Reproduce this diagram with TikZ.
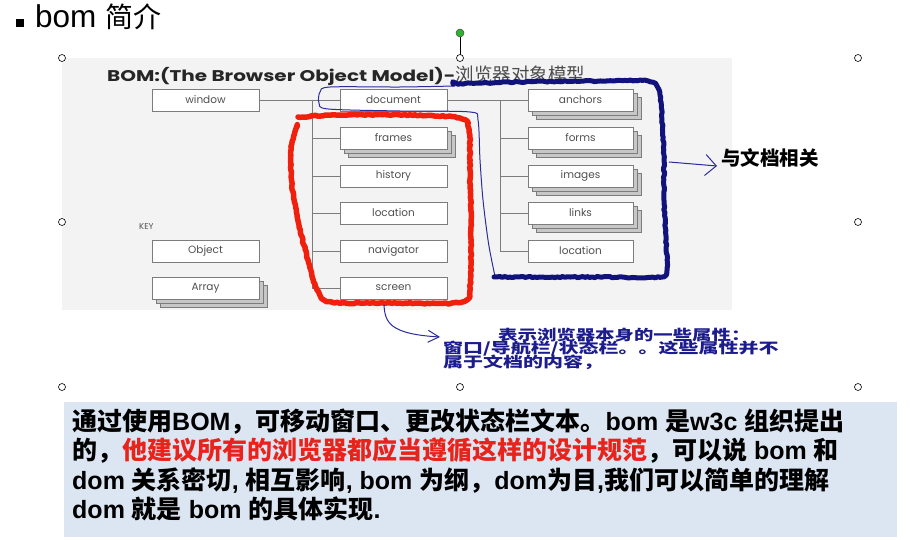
\documentclass[tikz,border=0pt]{standalone}
\usepackage{fontspec}
\usepackage{graphicx}
\setmainfont{Liberation Sans}
\newfontfamily\cjk{Noto Sans CJK SC}
\newfontfamily\pop{Poppins}
\usetikzlibrary{arrows.meta,decorations.pathmorphing,shadows}
\definecolor{boxline}{HTML}{7C7C7C}
\definecolor{labelgray}{HTML}{505050}
\definecolor{diagbg}{HTML}{F3F3F3}
\definecolor{notebg}{HTML}{DCE6F2}
\definecolor{penred}{HTML}{F0200C}
\definecolor{pennavy}{HTML}{12127C}
\definecolor{penthin}{HTML}{2C2C9C}
\definecolor{annot}{HTML}{1C1C8E}
\definecolor{zred}{HTML}{E8231C}
\definecolor{handlegreen}{HTML}{2DB32D}
\begin{document}
\begin{tikzpicture}[x=1pt,y=-1pt,
  obj/.style={draw=boxline, fill=white, line width=0.9pt, minimum width=107pt, minimum height=22pt, inner sep=0pt, font=\pop\fontsize{10.5}{11}\selectfont, text=labelgray},
  arr/.style={obj, double copy shadow={shadow xshift=4pt, shadow yshift=-4pt, fill=black!22, draw=boxline, line width=0.9pt}},
  conn/.style={draw=boxline, line width=0.8pt},
  handle/.style={circle, draw=black, fill=white, line width=0.6pt, minimum size=7pt, inner sep=0pt},
  redpen/.style={draw=penred, line width=5.5pt, line cap=round, line join=round, decorate, decoration={random steps, segment length=2.5pt, amplitude=0.6pt}},
  navypen/.style={draw=pennavy, line width=5pt, line cap=round, line join=round, decorate, decoration={random steps, segment length=2.5pt, amplitude=0.6pt}},
  thinpen/.style={draw=penthin, line width=1pt, line cap=round, line join=round},
  annottext/.style={inner sep=0pt, text=annot, font=\cjk\bfseries\fontsize{20}{20}\selectfont},
  note/.style={inner sep=0pt, anchor=base west, font=\bfseries\fontsize{25}{25}\selectfont}
]
\useasboundingbox (0,0) rectangle (910,540);
\fill[white] (0,0) rectangle (910,540);

% slide title
\fill[black] (16,19) rectangle (24,27);
\node[inner sep=0pt, anchor=base west] (slidetitle) at (35,28)
  {\fontsize{31.5}{31}\selectfont bom\hspace{9pt}{\cjk\fontsize{28}{28}\selectfont 简介}};

% picture background
\fill[diagbg] (62,58) rectangle (732,310);

% diagram title
\node[inner sep=0pt, anchor=base west, text=black!85] (dtitle) at (107,82)
  {\scalebox{1.29}[1]{\pop\bfseries\fontsize{15.5}{16}\selectfont BOM:(The Browser Object Model)-}};
\node[inner sep=0pt, anchor=base west, text=black!70, font=\cjk\fontsize{18.5}{19}\selectfont] (dtitlezh) at (dtitle.base east) {浏览器对象模型};

% boxes
\node[obj] (window) at (205.5,100) {window};
\node[obj] (document) at (393.5,100) {document};
\node[arr] (frames) at (393.5,138) {frames};
\node[obj] (history) at (393.5,176) {history};
\node[obj] (location) at (393.5,213) {location};
\node[obj] (navigator) at (393.5,251) {navigator};
\node[obj] (screen) at (393.5,288) {screen};
\node[arr, minimum width=105pt] (anchors) at (580.5,100) {anchors};
\node[arr, minimum width=105pt] (forms) at (580.5,138) {forms};
\node[arr, minimum width=105pt] (images) at (580.5,176) {images};
\node[arr, minimum width=105pt] (links) at (580.5,213) {links};
\node[obj, minimum width=105pt] (location2) at (580.5,251) {location};
\node[inner sep=0pt, anchor=west, text=labelgray, font=\pop\fontsize{8.5}{8}\selectfont] (key) at (139,227) {KEY};
\node[obj] (object) at (205.5,251) {Object};
\node[arr] (array) at (205.5,288) {Array};

% connectors
\coordinate (lt) at (312,0);
\coordinate (rt) at (500,0);
\draw[conn] (window.east) -- (document.west);
\draw[conn] (lt |- document.west) -- (lt |- screen.west);
\foreach \b in {frames,history,location,navigator,screen}
  \draw[conn] (lt |- \b.west) -- (\b.west);
\draw[conn] (document.east) -- (anchors.west);
\draw[conn] (rt |- anchors.west) -- (rt |- location2.west);
\foreach \b in {forms,images,links,location2}
  \draw[conn] (rt |- \b.west) -- (\b.west);

% hand-drawn marks
\draw[thinpen] plot[smooth, tension=0.5] coordinates {(455,86) (400,87) (330,87) (320,92) (319,103) (328,109) (400,111) (470,112) (478,120) (480,160) (483,200) (488,240) (492,262) (495,276)};
\draw[redpen] plot[smooth, tension=0.55] coordinates {(297,127) (291,150) (292,185) (299,225) (308,260) (317,290) (332,302) (400,303) (462,302) (470,285) (471,230) (470,170) (469,132) (460,118) (400,115) (340,115) (298,117)};
\draw[navypen] plot[smooth, tension=0.5] coordinates {(453,84) (520,82) (600,81) (648,81) (659,90) (662,120) (664,160) (664,200) (666,240) (667,268) (660,277) (600,277) (540,277) (494,277)};

% annotations
\node[inner sep=0pt, anchor=west, font=\cjk\bfseries\fontsize{19.5}{19}\selectfont] (reldoc) at (721,158) {与文档相关};
\coordinate (a1s) at (669,162);
\coordinate (a1e) at (717,166);
\draw[thinpen, -{Straight Barb[length=11pt, width=21pt, line width=1pt]}] (a1s) -- (a1e);

\node[annottext, anchor=west] (ann1) at (498,335) {\scalebox{0.97}[0.72]{表示浏览器本身的一些属性：}};
\node[annottext, anchor=west] (ann2) at (443,349) {\scalebox{1}[0.72]{窗口/导航栏/状态栏。。这些属性并不}};
\node[annottext, anchor=west] (ann3) at (443,362) {\scalebox{1}[0.72]{属于文档的内容，}};
\coordinate (a2s) at (384,305);
\coordinate (a2e) at (440,337);
\draw[thinpen, -{Straight Barb[length=11pt, width=12pt, line width=1pt]}] (a2s) .. controls (385,322) and (389,334) .. (a2e);

% selection handles
\draw[black, line width=0.8pt] (460,37) -- (460,55);
\node[circle, draw=black!70, fill=handlegreen, line width=0.5pt, minimum size=8pt, inner sep=0pt] (rot) at (460,33) {};
\foreach \p/\n in {{(62,58)}/h1,{(460,58)}/h2,{(858,58)}/h3,{(62,222)}/h4,{(858,222)}/h5,{(62,387)}/h6,{(460,387)}/h7,{(858,387)}/h8}
  \node[handle] (\n) at \p {};

% note box
\fill[notebg] (64,402) rectangle (897,537);
\node[note] (l1) at (72,430) {{\cjk 通过使用}BOM{\cjk ，可移动窗口、更改状态栏文本。}bom {\cjk 是}w3c {\cjk 组织提出}};
\node[note] (l2) at (72,459.5) {{\cjk 的，}{\cjk\color{zred}他建议所有的浏览器都应当遵循这样的设计规范}{\cjk ，可以说} bom {\cjk 和}};
\node[note] (l3) at (72,489) {dom {\cjk 关系密切}, {\cjk 相互影响}, bom {\cjk 为纲，}dom{\cjk 为目},{\cjk 我们可以简单的理解}};
\node[note] (l4) at (72,518.5) {dom {\cjk 就是} bom {\cjk 的具体实现}.};
\end{tikzpicture}
\end{document}
